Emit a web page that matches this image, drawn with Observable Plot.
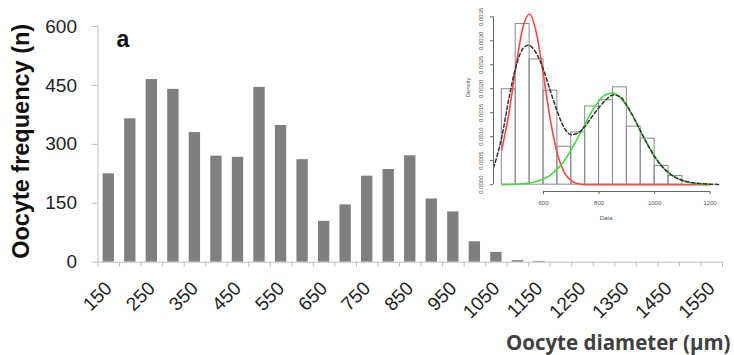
<!DOCTYPE html>
<html><head><meta charset="utf-8">
<script src="https://cdn.jsdelivr.net/npm/d3@7"></script>
<script src="https://cdn.jsdelivr.net/npm/@observablehq/plot@0.6"></script>
<style>
body{margin:0;background:#fff;}
#wrap{position:relative;width:734px;height:355px;overflow:hidden;background:#fff;}
#main{position:absolute;left:0;top:0;}
#inset{position:absolute;left:455px;top:0;}
</style></head><body><div id="wrap"><div id="main"></div><div id="inset"></div></div>
<script>
// ---- main histogram data ----
const diameters = [150,200,250,300,350,400,450,500,550,600,650,700,750,800,850,900,950,1000,1050,1100,1150,1200,1250,1300,1350,1400,1450,1500,1550];
const frequency = [225,365,465,440,330,270,267,445,348,261,104,146,219,236,271,161,128,52,25,4,2,0,0,0,0,0,0,0,0];
const labelTicks = [150,250,350,450,550,650,750,850,950,1050,1150,1250,1350,1450,1550];
const boundaryTicks = [125,175,225,275,325,375,425,475,525,575,625,675,725,775,825,875,925,975,1025,1075,1125,1175,1225,1275,1325,1375,1425,1475,1525,1575];
const yTicks = [0,150,300,450,600];
const xDomain = [125,1575];
const yDomain = [0,600];

// ---- inset data ----
const histBinStart = [450,500,550,600,650,700,750,800,850,900,950,1000,1050];
const histDensity = [0.00199,0.00335,0.00261,0.00196,0.00079,0.00109,0.00163,0.00176,0.00203,0.00121,0.00096,0.00039,0.00018];
const histBinWidth = 50;
const redX = [450,475,500,525,550,575,600,625,650,675,700,725,750,1200];
const redY = [0.00073,0.00147,0.00243,0.00326,0.00356,0.00315,0.00228,0.00134,0.00064,0.00025,0.00008,0.00002,0,0];
const greenX = [450,500,550,600,625,650,675,700,725,750,775,800,825,850,875,900,925,950,975,1000,1025,1050,1100,1150,1200];
const greenY = [0.000001,0.0000075,0.000033,0.000118,0.0002,0.00033,0.0005,0.00073,0.00099,0.00127,0.00154,0.00175,0.00188,0.00191,0.00182,0.00164,0.00139,0.00111,0.00084,0.0006,0.0004,0.00025,0.000085,0.000022,0.000005];
const mixX = [420,450,475,500,525,545,575,600,625,650,675,700,725,750,775,800,825,850,875,900,925,950,975,1000,1025,1050,1075,1100,1150,1200,1230];
const mixY = [0.00035,0.001,0.00178,0.00245,0.00283,0.00291,0.00273,0.0024,0.00195,0.00152,0.00118,0.00104,0.00108,0.00122,0.00142,0.00161,0.00177,0.00187,0.00184,0.00165,0.0014,0.00111,0.00083,0.00058,0.00039,0.00025,0.00015,0.00009,0.00003,0.00001,0.000004];
const insetYTicks = [0,0.0005,0.001,0.0015,0.002,0.0025,0.003,0.0035];
const insetXTicks = [600,800,1000,1200];
const insetXDomain = [420,1230];
const insetYDomain = [-0.000143,0.00372];

const plain = d => String(d);
const bars = diameters.map((d,i)=>({d, n: frequency[i]}));
const main = Plot.plot({
  width:734, height:355,
  marginLeft:97.5, marginRight:12, marginTop:26, marginBottom:93.3,
  x:{type:"linear", domain:xDomain},
  y:{domain:yDomain},
  style:{fontFamily:"'Liberation Sans', Arial, sans-serif", background:"transparent", color:"#222"},
  marks:[
    Plot.rectY(bars, {x1:d=>d.d-25, x2:d=>d.d+25, y:"n", fill:"#7f7f7f", insetLeft:5.1, insetRight:5.1}),
    Plot.frame({anchor:"left", stroke:"#bfbfbf"}),
    Plot.frame({anchor:"bottom", stroke:"#bfbfbf"}),
    Plot.axisY({ticks:yTicks, tickSize:6, tickPadding:15, fontSize:19, tickFormat:plain, stroke:"#bfbfbf", fill:"#222", label:null}),
    Plot.axisX({ticks:boundaryTicks, tickSize:5, tickFormat:()=>"", stroke:"#bfbfbf", label:null}),
    Plot.axisX({ticks:labelTicks, tickSize:0, tickPadding:23, tickRotate:-45, fontSize:19, tickFormat:plain, fill:"#222", label:null}),
    Plot.text(["Oocyte frequency (n)"], {text:d=>d, frameAnchor:"left", rotate:-90, dx:-69, dy:-3, fontSize:23.5, fontWeight:"bold", lineAnchor:"bottom", textAnchor:"middle", fill:"#111"}),
    Plot.text(["a"], {text:d=>d, frameAnchor:"top-left", textAnchor:"start", lineAnchor:"bottom", dx:18.5, dy:20, fontSize:23, fontWeight:"bold", fill:"#111"}),
    Plot.text(["Oocyte diameter (µm)"], {text:d=>d, frameAnchor:"bottom-right", textAnchor:"end", lineAnchor:"bottom", dx:8, dy:87.6, fontSize:20.5, fontWeight:"bold", fontFamily:"'Open Sans', sans-serif", fill:"#404040"})
  ]
});
document.getElementById("main").appendChild(main);

const hist = histBinStart.map((x0,i)=>({x0, x1:x0+histBinWidth, dens:histDensity[i]}));
const red = redX.map((x,i)=>({x, y:redY[i]}));
const green = greenX.map((x,i)=>({x, y:greenY[i]}));
const mix = mixX.map((x,i)=>({x, y:mixY[i]}));
const inset = Plot.plot({
  width:279, height:230,
  marginLeft:38, marginRight:16, marginTop:5.8, marginBottom:39,
  x:{domain:insetXDomain},
  y:{domain:insetYDomain},
  style:{fontFamily:"'Liberation Sans', Arial, sans-serif", background:"transparent", color:"#555"},
  marks:[
    Plot.rectY(hist, {x1:"x0", x2:"x1", y:"dens", fill:"none", stroke:"#8a8a8a", strokeWidth:1}),
    Plot.line(red, {x:"x", y:"y", stroke:"#ff4545", strokeWidth:1.6, curve:"monotone-x"}),
    Plot.line(green, {x:"x", y:"y", stroke:"#45d845", strokeWidth:1.6, curve:"monotone-x"}),
    Plot.line(mix, {x:"x", y:"y", stroke:"#333", strokeWidth:1.5, strokeDasharray:"3.5,2.5", curve:"monotone-x"}),
    Plot.ruleX([insetXDomain[0]], {y1:insetYTicks[0], y2:insetYTicks[insetYTicks.length-1], stroke:"#666"}),
    Plot.ruleY([insetYDomain[0]], {x1:insetXTicks[0], x2:insetXTicks[insetXTicks.length-1], stroke:"#666"}),
    Plot.axisY({ticks:insetYTicks, tickSize:3, tickPadding:8, tickRotate:-90, tickFormat:d3.format(".4f"), fontSize:6, stroke:"#666", fill:"#555", label:null}),
    Plot.axisX({ticks:insetXTicks, tickSize:3, tickPadding:6, fontSize:6, tickFormat:plain, stroke:"#666", fill:"#555", label:null}),
    Plot.text(["Density"], {text:d=>d, frameAnchor:"left", rotate:-90, dx:-25.3, dy:-1.4, fontSize:6, lineAnchor:"middle", fill:"#555"}),
    Plot.text(["Data"], {text:d=>d, frameAnchor:"bottom", dy:26.7, fontSize:6, lineAnchor:"middle", fill:"#555"})
  ]
});
document.getElementById("inset").appendChild(inset);
</script></body></html>
